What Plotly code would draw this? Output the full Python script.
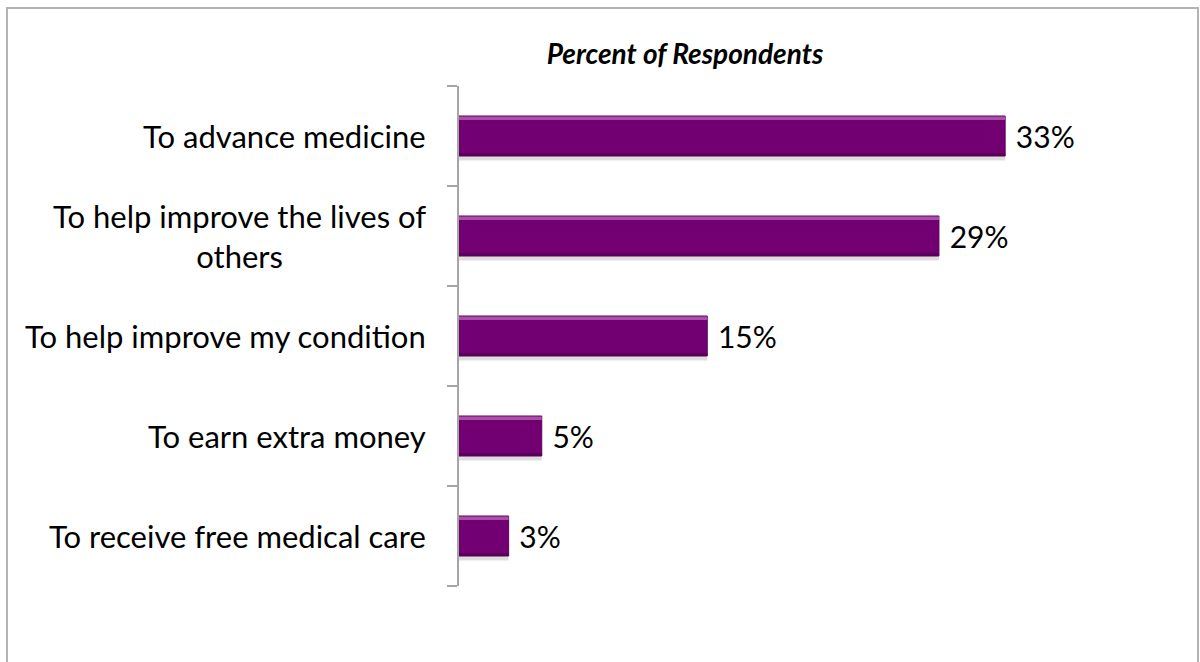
import plotly.graph_objects as go

# Data (top to bottom in the picture)
categories = [
    "To advance medicine",
    "To help improve the lives of<br>others",
    "To help improve my condition",
    "To earn extra money",
    "To receive free medical care",
]
values = [33, 29, 15, 5, 3]
title_text = "Percent of Respondents"

# Plotly draws the first category at the bottom, so reverse for display
cats = categories[::-1]
vals = values[::-1]

FONT = "Lato, 'Open Sans', sans-serif"

# plot-area geometry in pixels (for converting frame to paper coords)
W, H = 1200, 662
L, R, T, B = 459, 79, 86, 76
PW, PH = W - L - R, H - T - B

def px_x(p):
    return (p - L) / PW

def px_y(p):
    return (H - B - p) / PH

fig = go.Figure()

# soft shadow under bars
fig.add_trace(go.Bar(
    y=cats, x=vals, orientation="h", width=0.05, offset=-0.245,
    marker=dict(color="rgba(0,0,0,0.13)", line=dict(width=0)),
    hoverinfo="skip", showlegend=False,
))
# main bar
fig.add_trace(go.Bar(
    y=cats, x=vals, orientation="h", width=0.4, offset=-0.2,
    marker=dict(color="#720072", line=dict(color="#5c005c", width=1)),
    texttemplate=" %{x}%", textposition="outside", constraintext="none",
    textfont=dict(family=FONT, size=30, color="#000000"),
    cliponaxis=False, showlegend=False,
))
# top highlight (bevel)
fig.add_trace(go.Bar(
    y=cats, x=vals, orientation="h", width=0.035, offset=0.16,
    marker=dict(color="#a850a8", line=dict(width=0)),
    hoverinfo="skip", showlegend=False,
))
# bottom darker edge
fig.add_trace(go.Bar(
    y=cats, x=vals, orientation="h", width=0.03, offset=-0.2,
    marker=dict(color="#5a005a", line=dict(width=0)),
    hoverinfo="skip", showlegend=False,
))

# category labels, centred multi-line, right edge near the axis
for c in cats:
    fig.add_annotation(
        x=px_x(428), xref="paper", y=c, yref="y",
        text=c, showarrow=False, xanchor="right", yanchor="middle",
        align="center",
        font=dict(family=FONT, size=31, color="#000000"),
    )

# outer frame
fig.add_shape(
    type="rect", xref="paper", yref="paper",
    x0=px_x(7), x1=px_x(1198), y0=px_y(675), y1=px_y(8),
    line=dict(color="#b4b4b4", width=2), fillcolor="rgba(0,0,0,0)",
)

fig.update_layout(
    width=W, height=H,
    margin=dict(l=L, r=R, t=T, b=B),
    paper_bgcolor="white", plot_bgcolor="white",
    barmode="overlay",
    title=dict(
        text="<b><i>" + title_text + "</i></b>",
        x=685 / W, xref="container", xanchor="center",
        y=1 - 54 / H, yref="container", yanchor="middle",
        font=dict(family=FONT, size=28, color="#000000"),
    ),
    xaxis=dict(
        range=[0, 40], visible=False, showgrid=False, zeroline=False,
    ),
    yaxis=dict(
        type="category", range=[-0.5, 4.5],
        showticklabels=False, showgrid=False, zeroline=False,
        showline=True, linecolor="#a6a6a6", linewidth=1.5,
        ticks="outside", ticklen=10, tickcolor="#a6a6a6", tickwidth=1.5,
        tickson="boundaries",
    ),
)

fig.write_html(
    "out.html",
    config={"displayModeBar": False},
    post_script="document.body.style.margin='0';",
)
